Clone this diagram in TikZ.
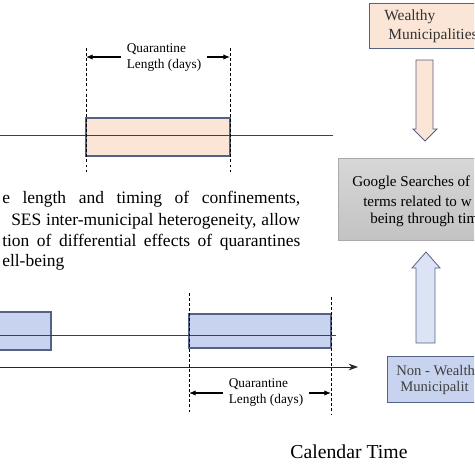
\documentclass[tikz,border=0pt]{standalone}
\usepackage{fontspec}
\setmainfont{Liberation Serif}
\usepackage{tikz}
\usetikzlibrary{arrows.meta}
\newdimen\pxu \pxu=0.75pt
\definecolor{peach}{RGB}{251,229,214}
\definecolor{boxline}{RGB}{84,98,134}
\definecolor{bluefill}{RGB}{200,211,240}
\definecolor{arrowblue}{RGB}{219,227,245}
\definecolor{grayfill}{RGB}{205,205,205}
\definecolor{grayline}{RGB}{170,170,170}
\tikzset{
  qbox/.style={draw=boxline, thick, inner sep=0pt},
  vdash/.style={dashed, semithick, dash pattern=on 2.2pt off 1.6pt},
  timeline/.style={draw=black!75, semithick},
  qarrow/.style={-{Latex[length=5pt,width=4pt]}, thick},
  qtext/.style={align=left, font=\fontsize{10}{12}\selectfont, inner sep=6\pxu},
  ptext/.style={anchor=west, inner sep=0pt, font=\fontsize{13.1}{15}\selectfont},
}
\begin{document}
\begin{tikzpicture}[x=0.75pt, y=-0.75pt]
\useasboundingbox (0,0) rectangle (474,474);
\clip (0,0) rectangle (474,474);

			% top: wealthy timeline
			\node[qbox, fill=peach, minimum width=144\pxu, minimum height=38\pxu] (Q1) at (158,137) {};
			\coordinate (L1a) at (0,135);
			\coordinate (L1b) at (333,135);
			\path [timeline] (L1a) edge (L1b);
			\coordinate (D1t) at (86,48);
			\coordinate (D1b) at (86,172);
			\coordinate (D2t) at (230,48);
			\coordinate (D2b) at (230,172);
			\path [vdash] (D1t) edge (D1b);
			\path [vdash] (D2t) edge (D2b);
			\node[qtext] (T1) at (164,58) {Quarantine\\Length (days)};
			\coordinate (A1) at (86,57);
			\coordinate (A2) at (230,57);
			\path [qarrow] (T1.west |- A1) edge (A1);
			\path [qarrow] (T1.east |- A2) edge (A2);

			% middle text
			\node[ptext] (P1) at (2,199) {\makebox[298\pxu][s]{e length and timing of confinements,}};
			\node[ptext] (P2) at (11,221) {\makebox[289\pxu][s]{SES inter-municipal heterogeneity, allow}};
			\node[ptext] (P3) at (2,242) {\makebox[298\pxu][s]{tion of differential effects of quarantines}};
			\node[ptext] (P4) at (2,262) {ell-being};

			% bottom: non-wealthy timeline
			\node[qbox, fill=bluefill, minimum width=60\pxu, minimum height=38\pxu] (Q2) at (21,331) {};
			\node[qbox, fill=bluefill, minimum width=142\pxu, minimum height=34\pxu] (Q3) at (260,331) {};
			\coordinate (L2a) at (0,335);
			\coordinate (L2b) at (336,335);
			\path [timeline] (L2a) edge (L2b);
			\coordinate (D3t) at (189,293);
			\coordinate (D3b) at (189,412);
			\coordinate (D4t) at (331,297);
			\coordinate (D4b) at (331,415);
			\path [vdash] (D3t) edge (D3b);
			\path [vdash] (D4t) edge (D4b);
			\coordinate (C1) at (0,367);
			\coordinate (C2) at (358,367);
			\path [-{Stealth[length=7pt,width=5pt]}, semithick, black!85] (C1) edge (C2);
			\node[qtext] (T2) at (266,393) {Quarantine\\Length (days)};
			\coordinate (A3) at (189,393);
			\coordinate (A4) at (331,393);
			\path [qarrow] (T2.west |- A3) edge (A3);
			\path [qarrow] (T2.east |- A4) edge (A4);
			\node[font=\fontsize{14.8}{18}\selectfont] (CT) at (349,452) {Calendar Time};

			% right column
			\node[qbox, fill=peach, anchor=north west, minimum width=140\pxu, minimum height=45\pxu] (W) at (369,3) {};
			\node[anchor=west, text=black!80, font=\fontsize{11.6}{14}\selectfont, inner sep=0pt] (W1) at (384,17) {Wealthy};
			\node[anchor=west, text=black!80, font=\fontsize{11.6}{14}\selectfont, inner sep=0pt] (W2) at (388,36) {Municipalities};
			\filldraw[fill=peach, draw=boxline, semithick] (416,60) -- (433,60) -- (433,129) -- (437,129)
			  -- (425,141) -- (413,129) -- (416,129) -- cycle;

			\node[draw=grayline, top color=grayfill!80, bottom color=grayfill!95!black, anchor=north west, minimum width=150\pxu, minimum height=82\pxu] (G) at (338,158) {};
			\node[anchor=west, font=\fontsize{11.3}{13}\selectfont, inner sep=0pt] (G1) at (352,183) {Google Searches of};
			\node[anchor=west, font=\fontsize{11.3}{13}\selectfont, inner sep=0pt] (G2) at (363,201) {terms related to w};
			\node[anchor=west, font=\fontsize{11.3}{13}\selectfont, inner sep=0pt] (G3) at (370,220) {being through tim};

			\filldraw[fill=arrowblue, draw=boxline, semithick] (416,343) -- (435,343) -- (435,268) -- (440,268)
			  -- (426,252) -- (412,268) -- (416,268) -- cycle;
			\node[qbox, fill=bluefill, anchor=north west, minimum width=120\pxu, minimum height=46\pxu] (N) at (387,356) {};
			\node[anchor=west, text=black!75, font=\fontsize{11}{13}\selectfont, inner sep=0pt] (N1) at (396,371) {Non - Wealth};
			\node[anchor=west, text=black!75, font=\fontsize{11}{13}\selectfont, inner sep=0pt] (N2) at (400,388) {Municipalit};
\end{tikzpicture}
\end{document}
